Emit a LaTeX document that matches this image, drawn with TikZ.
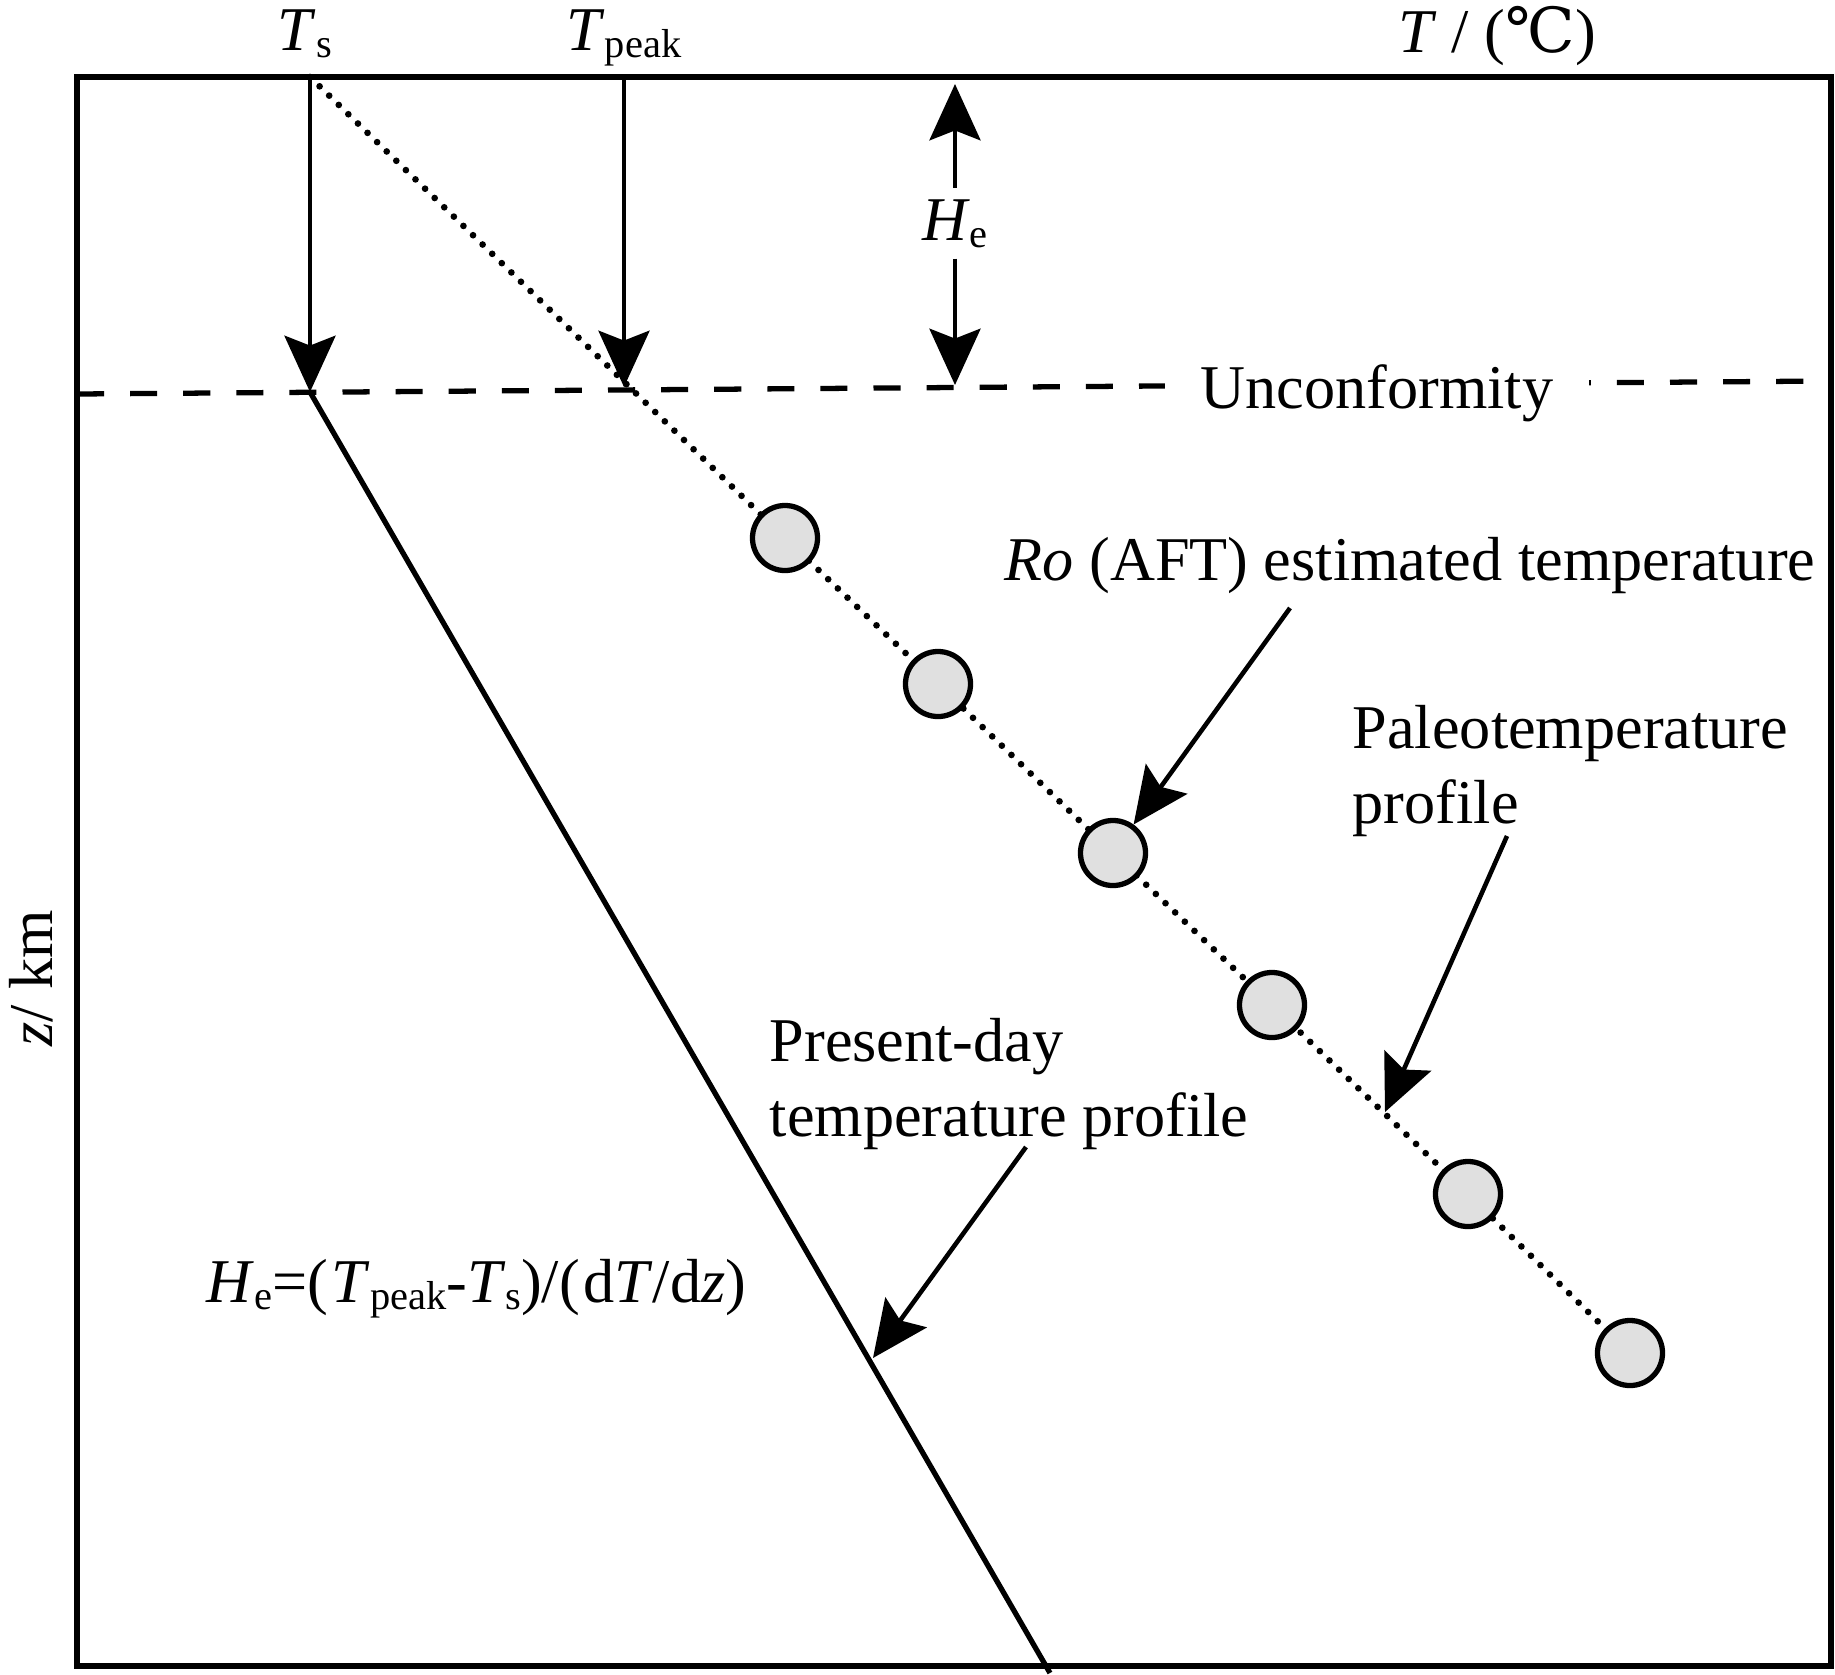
\documentclass[tikz,border=0pt]{standalone}
\usepackage{fontspec}
\setmainfont{Liberation Serif}
\newfontfamily\symfont{DejaVu Serif}
\usepackage{tikz}
\usetikzlibrary{
  arrows.meta,
  positioning,
  calc
}
\definecolor{samplegray}{RGB}{224,224,224}
\newcommand\lowsub[1]{\raisebox{-2pt}{\fontsize{11.5}{12}\selectfont #1}}

\begin{document}
\begin{tikzpicture}[
    x=0.01cm, y=-0.01cm,
    txt/.style={font=\fontsize{17.7}{21.3}\selectfont, inner sep=0pt},
    frame/.style={line width=1.6pt},
    unconf/.style={line width=1.5pt, dash pattern=on 7.7pt off 7.4pt},
    present/.style={line width=1.5pt},
    paleo/.style={line width=1.9pt, line cap=round, dash pattern=on 0pt off 3.8pt},
    ptr/.style={-{Stealth[length=16pt, width=14.5pt, inset=2.8pt]}, line width=1.3pt},
    sample/.style={circle, draw, line width=1.5pt, fill=samplegray,
      minimum size=0.65cm, inner sep=0pt},
  ]
  \useasboundingbox (0,0) rectangle (1835,1675);

  %% --- frame ---
  \draw[frame] (77,77) rectangle (1831,1666);

  %% --- axis labels ---
  \node[txt, anchor=base] (tslab) at (305,50) {\textit{T}\lowsub{s}};
  \node[txt, anchor=base] (tplab) at (624,50) {\textit{T}\lowsub{peak}};
  \node[txt, anchor=base] (tlab) at (1497,52) {\textit{T} / ({\symfont ℃})};
  \node[txt, anchor=base, rotate=90] (zlab) at (52,978) {\textit{z}/ km};

  %% --- arrow ends ---
  \coordinate (ts0) at (310,77);
  \coordinate (ts1) at (310,392);
  \coordinate (tp0) at (624,77);
  \coordinate (tp1) at (624,387);
  \coordinate (he0) at (955,84);
  \coordinate (he1) at (955,385);
  \coordinate (ucl) at (77,394);
  \coordinate (ucr) at (1831,381);
  \coordinate (pdend) at (1050,1673);

  %% --- unconformity ---
  \draw[unconf] (ucl) -- (ucr);
  \node[txt, anchor=base, fill=white, inner xsep=0.36cm, inner ysep=2pt] (unc) at (1377,408) {Unconformity};

  %% --- present-day profile ---
  \draw[present] (ts1) -- (pdend);

  %% --- paleotemperature profile ---
  \foreach \i/\x/\y in {1/785/538, 2/938/684, 3/1113/853, 4/1272/1005, 5/1468/1194, 6/1630/1353}
    \coordinate (p\i) at (\x,\y);
  \draw[paleo] (ts0) -- (p1) -- (p2) -- (p3) -- (p4) -- (p5) -- (p6);
  \foreach \i in {1,...,6}
    \node[sample] (ro\i) at (p\i) {};

  %% --- temperature arrows ---
  \draw[ptr] (ts0) -- (ts1);
  \draw[ptr] (tp0) -- (tp1);
  \node[txt, anchor=base, inner sep=3pt] (he) at (955,240) {\textit{H}\lowsub{e}};
  \draw[ptr] (he.north) -- (he0);
  \draw[ptr] (he.south) -- (he1);

  %% --- annotations ---
  \node[txt, anchor=base west] (rolab) at (1004,580) {\textit{Ro} (AFT) estimated temperature};
  \node[txt, anchor=base west, align=left] (pallab) at (1352,823) {Paleotemperature\\profile};
  \node[txt, anchor=base west, align=left] (pdlab) at (769,1136) {Present-day\\temperature profile};
  \node[txt, anchor=base west] (heq) at (206,1302)
    {\textit{H}\lowsub{e}=(\kern1pt\textit{T}\lowsub{peak}-\textit{T}\lowsub{s})/(\kern1pt d\textit{T}/d\textit{z})};

  \coordinate (a1) at (1290,608);
  \coordinate (a2) at (1507,836);
  \coordinate (a2tip) at (1385,1112);
  \coordinate (a3) at (1026,1147);
  \coordinate (a3tip) at (873,1358);
  \draw[ptr] (a1) -- (ro3);
  \draw[ptr] (a2) -- (a2tip);
  \draw[ptr] (a3) -- (a3tip);
\end{tikzpicture}
\end{document}
